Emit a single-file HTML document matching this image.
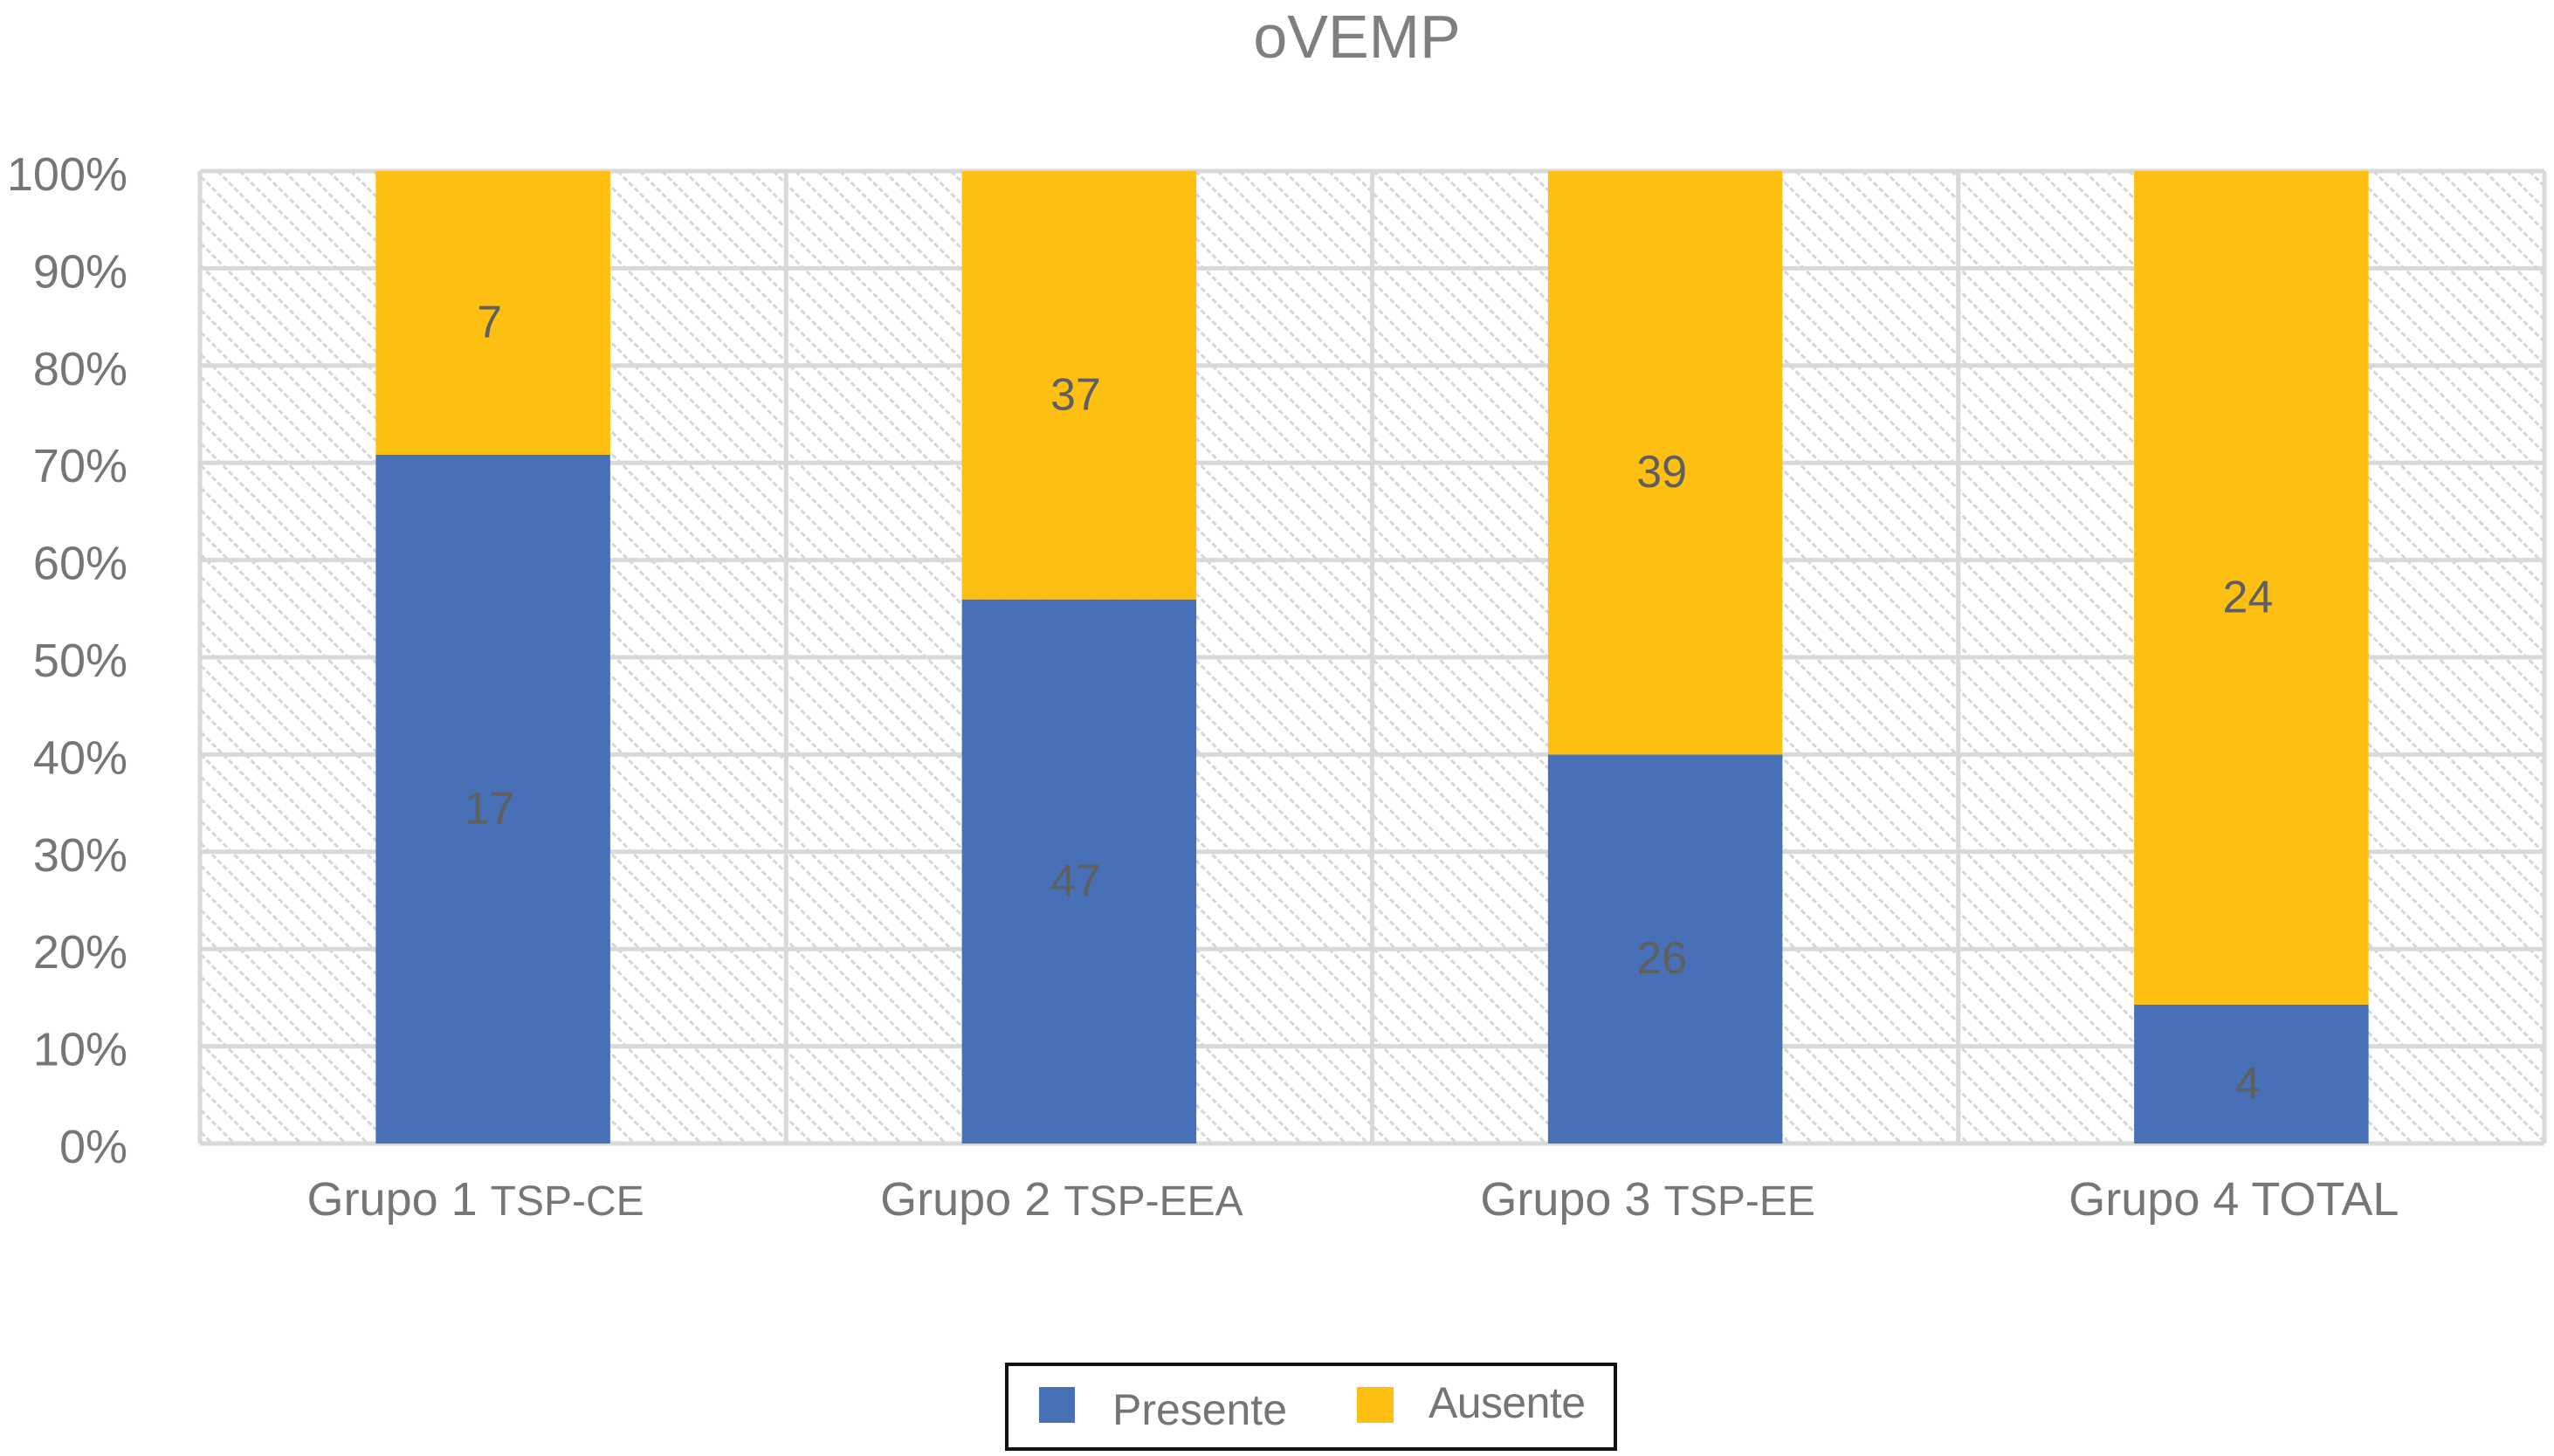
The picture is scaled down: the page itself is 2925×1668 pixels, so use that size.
<!DOCTYPE html>
<html><head><meta charset="utf-8"><style>
html,body{margin:0;padding:0;background:#fff;}
svg{display:block;font-family:"Liberation Sans",sans-serif;}
</style></head><body>
<svg id="chart" width="2925" height="1668" viewBox="0 0 2925 1668">
<defs>
<pattern id="hatch" patternUnits="userSpaceOnUse" width="18" height="18" patternTransform="rotate(-45)">
<rect width="18" height="18" fill="#fff"/>
<line x1="0" y1="0" x2="0" y2="18" stroke="#d6d6d6" stroke-width="6" stroke-dasharray="6 3"/>
</pattern>
</defs>
<text x="1554" y="66" text-anchor="middle" font-size="70" fill="#7f7f7f">oVEMP</text>
<g id="plot"></g>
<g>
<rect x="1153" y="1563" width="697" height="97" fill="#fff" stroke="#111" stroke-width="4"/>
<rect x="1190" y="1589" width="41" height="41" fill="#4870b7"/>
<text x="1274" y="1632" font-size="50" fill="#757575" textLength="200">Presente</text>
<rect x="1554" y="1589" width="42" height="41" fill="#fdbf11"/>
<text x="1636" y="1624" font-size="50" fill="#757575" textLength="180">Ausente</text>
</g>
</svg>
<script>
const categories = ["Grupo 1", "Grupo 2", "Grupo 3", "Grupo 4"];
const subLabels = ["TSP-CE", "TSP-EEA", "TSP-EE", "TOTAL"];
const presente = [17, 47, 26, 4];
const ausente = [7, 37, 39, 24];
const yTicks = [0, 10, 20, 30, 40, 50, 60, 70, 80, 90, 100];

const L = 229, R = 2914, T = 196, B = 1310;
const ns = "http://www.w3.org/2000/svg";
const g = document.getElementById("plot");
const bw = (R - L) / categories.length;
const yS = p => B - (B - T) * p / 100;
const xS = i => L + bw * i;
function mk(tag, attrs, parent) {
  const e = document.createElementNS(ns, tag);
  for (const k in attrs) e.setAttribute(k, attrs[k]);
  (parent || g).appendChild(e);
  return e;
}
const bg = mk("rect", {x: L, y: T, width: R - L, height: B - T, fill: "url(#hatch)"});


yTicks.forEach(t => {
  const y = yS(t);
  const ln = mk("line", {x1: L, x2: R, y1: y, y2: y, stroke: "#d9d9d9", "stroke-width": 5});
  
  
  const tx = mk("text", {x: 146, y: y + 22, "text-anchor": "end", "font-size": 54, fill: "#767676"});
  tx.textContent = t + "%";
  
  
});
for (let i = 0; i <= categories.length; i++) {
  const x = xS(i);
  const vl = mk("line", {x1: x, x2: x, y1: T, y2: B, stroke: "#d9d9d9", "stroke-width": 5});
  
  
}
categories.forEach((c, i) => {
  const tot = presente[i] + ausente[i];
  const pp = presente[i] / tot * 100;
  const w = bw * 0.4;
  const x = xS(i) + bw / 2 - w / 2;
  const cx = xS(i) + bw / 2;
  const b1 = mk("rect", {x: x, y: yS(pp), width: w, height: B - yS(pp), fill: "#4870b7"});
  
  
  const b2 = mk("rect", {x: x, y: T, width: w, height: yS(pp) - T, fill: "#fdbf11"});
  
  
  const l1 = mk("text", {x: cx - 4, y: (yS(pp) + B) / 2 + 28, "text-anchor": "middle", "font-size": 52, fill: "#5f5f5f"});
  l1.textContent = presente[i];
  
  
  const l2 = mk("text", {x: cx - 4, y: (yS(pp) + T) / 2 + 28, "text-anchor": "middle", "font-size": 52, fill: "#5f5f5f"});
  l2.textContent = ausente[i];
  
  
  const ct = mk("text", {x: cx - 20, y: 1392, "text-anchor": "middle", "font-size": 54, fill: "#767676"});
  ct.textContent = c + " ";
  const sp = mk("tspan", {"font-size": i === 3 ? 54 : 48}, ct);
  sp.textContent = subLabels[i];
  
  
});
</script>
</body></html>
